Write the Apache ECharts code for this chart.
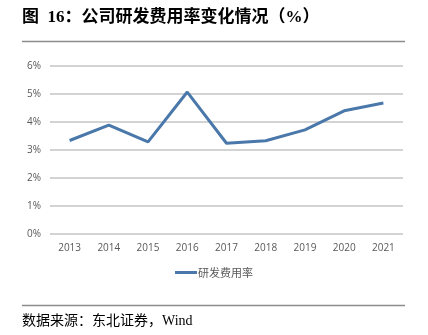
<!DOCTYPE html>
<html><head><meta charset="utf-8">
<script src="https://cdn.jsdelivr.net/npm/echarts@6/dist/echarts.min.js"></script>
<style>html,body{margin:0;padding:0;background:#fff}#c{width:428px;height:335px}</style>
</head><body><div id="c"></div>
<script>
const categories = ['2013','2014','2015','2016','2017','2018','2019','2020','2021'];
const rdRate = [3.34, 3.89, 3.29, 5.07, 3.24, 3.33, 3.72, 4.40, 4.68];
const seriesName = '研发费用率';
const titleText = '图  16：公司研发费用率变化情况（%）';
const sourceText = '数据来源：东北证券，Wind';

const chart = echarts.init(document.getElementById('c'));
chart.setOption({
  animation: false,
  backgroundColor: '#fff',
  graphic: [
    {type:'text', left:22, top:9, style:{text:titleText, font:'bold 17px "Liberation Serif","Noto Sans CJK SC"', fill:'#000'}},
    {type:'line', shape:{x1:22,y1:41.5,x2:405,y2:41.5}, style:{stroke:'#8c8c8c', lineWidth:1.5}},
    {type:'line', shape:{x1:22,y1:305.5,x2:405,y2:305.5}, style:{stroke:'#8c8c8c', lineWidth:1.5}},
    {type:'text', left:22, top:314, style:{text:sourceText, font:'14px "Liberation Serif","Noto Sans CJK SC"', fill:'#000'}}
  ],
  grid: {left:50, right:25, top:66, bottom:101, containLabel:false},
  legend: {
    data:[seriesName], top:262, left:'center',
    itemWidth:22, itemHeight:3, itemGap:5,
    icon:'rect',
    textStyle:{color:'#595959', fontSize:11, fontFamily:'"Noto Sans CJK SC"', padding:[0,0,0,-4]}
  },
  xAxis: {
    type:'category', data:categories, boundaryGap:true,
    axisLine:{show:false}, axisTick:{show:false},
    axisLabel:{color:'#595959', fontSize:10, margin:9, fontFamily:'Open Sans'}
  },
  yAxis: {
    type:'value', min:0, max:6, interval:1,
    axisLabel:{formatter:'{value}%', color:'#595959', fontSize:10, margin:9, fontFamily:'Open Sans'},
    splitLine:{lineStyle:{color:'#c4c4c4', width:1.5}},
    axisLine:{show:false}, axisTick:{show:false}
  },
  series: [{
    name:seriesName, type:'line', data:rdRate,
    symbol:'none', lineStyle:{color:'#4a78aa', width:3},
    itemStyle:{color:'#4a78aa'}
  }]
});
</script></body></html>
